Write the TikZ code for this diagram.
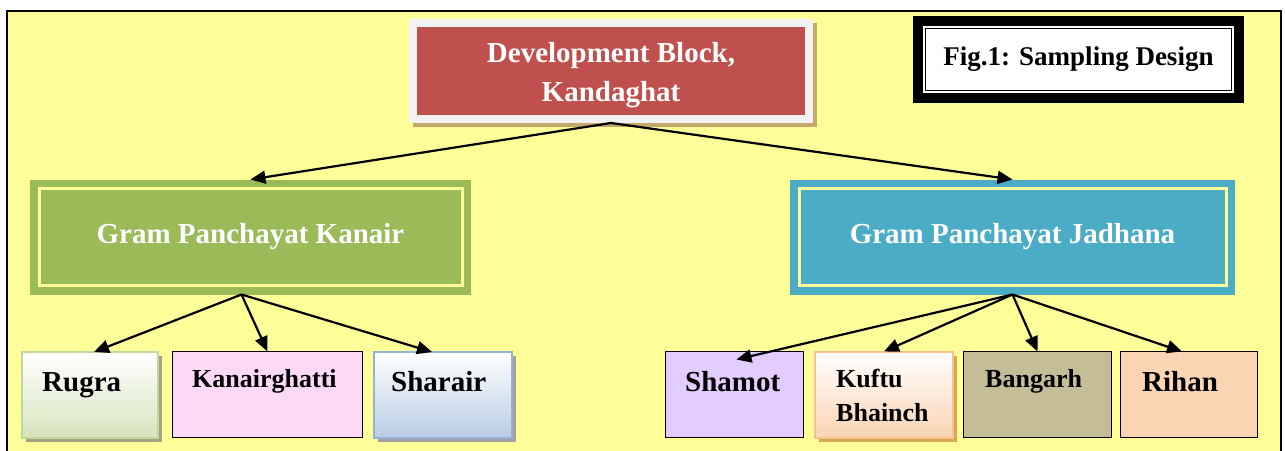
\documentclass[tikz,border=0pt]{standalone}
\usepackage{fontspec}
\setmainfont{Liberation Serif}
\usetikzlibrary{arrows.meta,shadows,backgrounds}
\definecolor{bgyellow}{HTML}{FFFF99}
\definecolor{devred}{HTML}{C0504D}
\definecolor{devborder}{HTML}{F2F2F2}
\definecolor{devshadow}{HTML}{C4A86C}
\definecolor{gpgreen}{HTML}{9BBB59}
\definecolor{gpblue}{HTML}{4BACC6}
\definecolor{rugrabot}{HTML}{D7E4BD}
\definecolor{rugraline}{HTML}{C3D69B}
\definecolor{rugrashadow}{HTML}{A3A383}
\definecolor{kgpink}{HTML}{FBD9F6}
\definecolor{sharbot}{HTML}{B8CCE4}
\definecolor{sharline}{HTML}{95B3D7}
\definecolor{sharshadow}{HTML}{A0A0A0}
\definecolor{shamlav}{HTML}{E3CCFF}
\definecolor{kufbot}{HTML}{FBD4B4}
\definecolor{kufline}{HTML}{FAC090}
\definecolor{kufshadow}{HTML}{D6AA55}
\definecolor{bangolive}{HTML}{C4BD97}
\definecolor{rihpeach}{HTML}{FBD4B4}
\tikzset{
  arr/.style={line width=2.2pt,-{Triangle[length=15pt,width=13pt]}},
  bigtxt/.style={font=\bfseries\fontsize{29}{39}\selectfont},
  smalltxt/.style={font=\bfseries\fontsize{26}{34}\selectfont},
  devbox/.style={fill=devred, preaction={draw=devborder, line width=16pt},
    minimum width=388pt, minimum height=88pt, inner sep=0pt, outer sep=8pt},
  devtxt/.style={text=white, align=center, inner sep=0pt, bigtxt},
  gpbox/.style={preaction={draw=#1, line width=18pt}, fill=#1, draw=bgyellow, line width=3pt,
    minimum height=97pt, inner sep=0pt, outer sep=9pt, text=white, bigtxt},
  figbox/.style={fill=white, draw=black, line width=10pt, minimum width=321pt,
    minimum height=77pt, inner sep=0pt, outer sep=0pt,
    font=\bfseries\fontsize{27}{32}\selectfont},
  vshade/.style n args={3}{top color=white, bottom color=#1, draw=#2, line width=2pt,
    drop shadow={shadow xshift=4pt, shadow yshift=-4pt, fill=#3, opacity=1},
    minimum height=86pt, inner sep=0pt, outer sep=0pt},
  vplain/.style={fill=#1, draw=black, line width=1.5pt,
    minimum height=86pt, inner sep=0pt, outer sep=0pt},
  vtxt/.style={anchor=base west, inner sep=0pt},
}
\begin{document}
\begin{tikzpicture}[x=1pt,y=-1pt]
\useasboundingbox (0,0) rectangle (1285,450);
\clip (0,0) rectangle (1285,450);
\begin{scope}[on background layer]
  \fill[white] (0,0) rectangle (1285,450);
  \draw[fill=bgyellow, line width=1.5pt] (7,11) rectangle (1281,470);
\end{scope}

% top node
\node[devbox] (dev) at (611,71) {};
\node[devtxt] (devT) at (611,75.5) {Development Block,\\Kandaghat};
% figure title
\node[figbox] (fig) at (1078.5,59.5) {Fig.1: Sampling Design};
\draw[line width=1.5pt] ([shift={(7.3,7.3)}]fig.north west) rectangle ([shift={(-7.3,-7.3)}]fig.south east);

% gram panchayats
\node[gpbox=gpgreen, minimum width=423pt] (kanair) at (250.5,237) {Gram Panchayat Kanair};
\node[gpbox=gpblue, minimum width=427pt] (jadhana) at (1012.5,237) {Gram Panchayat Jadhana};

% villages
\node[vshade={rugrabot}{rugraline}{rugrashadow}, minimum width=136pt] (rugra) at (90,395) {};
\node[vplain=kgpink, minimum width=190pt] (kghatti) at (267.5,394.5) {};
\node[vshade={sharbot}{sharline}{sharshadow}, minimum width=138pt] (sharair) at (443,395) {};
\node[vplain=shamlav, minimum width=138pt] (shamot) at (734.5,394.5) {};
\node[vshade={kufbot}{kufline}{kufshadow}, minimum width=138pt] (kuftu) at (884,394.5) {};
\node[vplain=bangolive, minimum width=148pt] (bangarh) at (1037.5,394.5) {};
\node[vplain=rihpeach, minimum width=137pt] (rihan) at (1189,394.5) {};

\node[vtxt, bigtxt] (rugraT) at (42,391) {Rugra};
\node[vtxt, smalltxt] (kghattiT) at (192,387) {Kanairghatti};
\node[vtxt, bigtxt] (sharairT) at (391,391) {Sharair};
\node[vtxt, bigtxt] (shamotT) at (685,391) {Shamot};
\node[vtxt, smalltxt] (kuftuT) at (836,387) {Kuftu};
\node[vtxt, smalltxt] (bhainchT) at (836,421) {Bhainch};
\node[vtxt, smalltxt] (bangarhT) at (985,387) {Bangarh};
\node[vtxt, bigtxt] (rihanT) at (1142,391) {Rihan};

% shadow of the top node
\begin{scope}[on background layer]
  \fill[devshadow] ([shift={(4,4)}]dev.north west) rectangle ([shift={(4,4)}]dev.south east);
\end{scope}

% connectors
\draw[arr] (dev.south) -- (kanair.north);
\draw[arr] (dev.south) -- (jadhana.north);
\draw[arr] ([xshift=-9pt]kanair.south) -- ([xshift=4pt]rugra.north);
\draw[arr] ([xshift=-9pt]kanair.south) -- (kghatti.north);
\draw[arr] ([xshift=-9pt]kanair.south) -- ([xshift=-11pt]sharair.north);
\draw[arr] (jadhana.south) -- ([shift={(2,8)}]shamot.north);
\draw[arr] (jadhana.south) -- (kuftu.north);
\draw[arr] (jadhana.south) -- (bangarh.north);
\draw[arr] (jadhana.south) -- ([xshift=-7pt]rihan.north);
\end{tikzpicture}
\end{document}
